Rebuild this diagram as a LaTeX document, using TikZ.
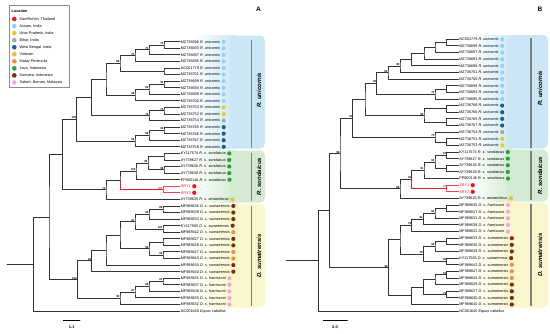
\documentclass[tikz,border=0pt]{standalone}
\usepackage{fontspec}
\setmainfont{Liberation Sans}
\usetikzlibrary{calc}
\definecolor{thai}{HTML}{E8191F}
\definecolor{assam}{HTML}{8FD4F2}
\definecolor{uttar}{HTML}{D8D42C}
\definecolor{bihar}{HTML}{A9A9A9}
\definecolor{bengal}{HTML}{16618F}
\definecolor{vietnam}{HTML}{F6B82C}
\definecolor{malay}{HTML}{F28A48}
\definecolor{java}{HTML}{25A33A}
\definecolor{sumatra}{HTML}{7B2D12}
\definecolor{sabah}{HTML}{F3A6DC}
\definecolor{boxU}{HTML}{CBE7F6}
\definecolor{boxS}{HTML}{D3EBD2}
\definecolor{boxD}{HTML}{FBF7CC}
\begin{document}
\begin{tikzpicture}[x=1pt,y=-1pt,line join=round,line cap=round,
  branch/.style={line width=0.9pt,draw=black!80},
  leaf/.style={anchor=west,inner sep=0.6pt,font=\fontsize{3.8}{4}\selectfont},
  bs/.style={anchor=south east,inner sep=0.3pt,font=\fontsize{2.8}{3}\selectfont\bfseries},
  clade/.style={rotate=90,font=\fontsize{6}{6}\selectfont\bfseries\itshape},
  bar/.style={line width=1.4pt,draw=black!50,line cap=butt},
  legtext/.style={anchor=west,inner sep=0pt,font=\fontsize{3.8}{4}\selectfont}]
\useasboundingbox (0,0) rectangle (550,333);
% legend
\draw[black!45,line width=0.5pt] (9,5) rectangle (69.5,87.5);
\node[legtext,font=\fontsize{3.8}{4}\selectfont\bfseries] (legtitle) at (11.5,11.5) {Location};
\foreach \k/\cl/\place in {1/thai/{SamRoiYot, Thailand},2/assam/{Assam, India},
  3/uttar/{Uttar Pradesh, India},4/bihar/{Bihar, India},5/bengal/{West Bengal, India},
  6/vietnam/Vietnam,7/malay/Malay Peninsula,8/java/{Java, Indonesia},
  9/sumatra/{Sumatra, Indonesia},10/sabah/{Sabah, Borneo, Malaysia}}{
  \fill[\cl] (14.3,{19+7.05*(\k-1)}) circle (2.3);
  \node[legtext] (leg\k) at (19.5,{19+7.05*(\k-1)}) {\place};
}
% clade boxes
\shade[left color=white,right color=boxU] (192,35.5) rectangle (235,148.5);
\fill[boxU,rounded corners=5pt] (230,35.5) rectangle (265,148.5);
\shade[left color=white,right color=boxS] (192,150.5) rectangle (235,202.5);
\fill[boxS,rounded corners=5pt] (230,150.5) rectangle (265,202.5);
\shade[left color=white,right color=boxD] (192,204) rectangle (235,307.5);
\fill[boxD,rounded corners=5pt] (230,204) rectangle (265,307.5);
\shade[left color=white,right color=boxU] (472,35) rectangle (512,148.5);
\fill[boxU,rounded corners=5pt] (507,35) rectangle (548,148.5);
\shade[left color=white,right color=boxS] (472,149.5) rectangle (512,201.5);
\fill[boxS,rounded corners=5pt] (507,149.5) rectangle (548,201.5);
\shade[left color=white,right color=boxD] (472,202.5) rectangle (512,307.5);
\fill[boxD,rounded corners=5pt] (507,202.5) rectangle (548,307.5);
\draw[bar] (251.7,40) -- (251.7,147.5);
\draw[bar] (251.7,152.5) -- (251.7,200.5);
\draw[bar] (251.7,205.5) -- (251.7,306);
\draw[bar] (531,38) -- (531,147.5);
\draw[bar] (531,151) -- (531,200);
\draw[bar] (531,204) -- (531,306);
\node[clade] (Acu) at (259,90) {R. unicornis};
\node[clade] (Acs) at (259,176.5) {R. sondaicus};
\node[clade] (Acd) at (259,256) {D. sumatrensis};
\node[clade] (Bcu) at (540,88) {R. unicornis};
\node[clade] (Bcs) at (540,175.5) {R. sondaicus};
\node[clade] (Bcd) at (540,255) {D. sumatrensis};
\node[font=\fontsize{6.5}{7}\selectfont\bfseries] (Apanel) at (258.5,9.5) {A};
\node[font=\fontsize{6.5}{7}\selectfont\bfseries] (Bpanel) at (540,9.5) {B};
% panel A leaves
\foreach \i/\acc/\spec/\cl in {1/MZ736696/R. unicornis/assam,2/MZ736693/R. unicornis/assam,
  3/MZ736697/R. unicornis/assam,4/MZ736695/R. unicornis/assam,5/NC001779/R. unicornis/assam,
  6/MZ736701/R. unicornis/assam,7/MZ736699/R. unicornis/assam,8/MZ736694/R. unicornis/assam,
  9/MZ736698/R. unicornis/assam,10/MZ736700/R. unicornis/assam,11/MZ736753/R. unicornis/uttar,
  12/MZ736752/R. unicornis/uttar,13/MZ736754/R. unicornis/bihar,14/MZ736765/R. unicornis/bengal,
  15/MZ736766/R. unicornis/bengal,16/MZ736767/R. unicornis/bengal,17/MZ736768/R. unicornis/bengal,
  18/KY117574/R. s. sondaicus/java,19/AY739627/R. s. sondaicus/java,20/AY739626/R. s. sondaicus/java,
  21/AY739628/R. s. sondaicus/java,22/PP800146/R. s. sondaicus/java,
  23/{\textcolor{thai}{SRY1}}/{}/thai,24/{\textcolor{thai}{SRY2}}/{}/thai,
  25/AY739625/R. s. annamiticus/vietnam,26/MF988636/D. s. sumatrensis/sumatra,
  27/MF988639/D. s. sumatrensis/sumatra,28/MF988633/D. s. sumatrensis/sumatra,
  29/KY117565/D. s. sumatrensis/sumatra,30/MF988642/D. s. sumatrensis/malay,
  31/MF988627/D. s. sumatrensis/sumatra,32/MF988628/D. s. sumatrensis/sumatra,
  33/MF988647/D. s. sumatrensis/malay,34/MF988643/D. s. sumatrensis/malay,
  35/MF988630/D. s. sumatrensis/sumatra,36/MF988640/D. s. sumatrensis/sumatra,
  37/MF988631/D. s. harrissoni/sabah,38/MF988637/D. s. harrissoni/sabah,
  39/MF988638/D. s. harrissoni/sabah,40/MF988635/D. s. harrissoni/sabah,
  41/MF988632/D. s. harrissoni/sabah}{
  \node[leaf] (A\i) at (180,{41.7+6.57*(\i-1)}) {\acc\ \textit{\spec}};
  \fill[\cl] ([xshift=2.8pt]A\i.east) circle (2.1);
}
\node[leaf] (A42) at (180,{41.7+6.57*41}) {NC001640 \textit{Equus caballus}};
% panel B leaves
\foreach \i/\acc/\spec/\cl in {1/NC001779/R. unicornis/assam,2/MZ736699/R. unicornis/assam,
  3/MZ736697/R. unicornis/assam,4/MZ736693/R. unicornis/assam,5/MZ736696/R. unicornis/assam,
  6/MZ736701/R. unicornis/assam,7/MZ736700/R. unicornis/assam,8/MZ736698/R. unicornis/assam,
  9/MZ736694/R. unicornis/assam,10/MZ736695/R. unicornis/assam,11/MZ736768/R. unicornis/bengal,
  12/MZ736766/R. unicornis/bengal,13/MZ736765/R. unicornis/bengal,14/MZ736767/R. unicornis/bengal,
  15/MZ736754/R. unicornis/bihar,16/MZ736752/R. unicornis/uttar,17/MZ736753/R. unicornis/uttar,
  18/KY117574/R. s. sondaicus/java,19/AY739627/R. s. sondaicus/java,20/AY739626/R. s. sondaicus/java,
  21/AY739628/R. s. sondaicus/java,22/PP800146/R. s. sondaicus/java,
  23/{\textcolor{thai}{SRY1}}/{}/thai,24/{\textcolor{thai}{SRY2}}/{}/thai,
  25/AY739625/R. s. annamiticus/vietnam,26/MF988635/D. s. harrissoni/sabah,
  27/MF988637/D. s. harrissoni/sabah,28/MF988631/D. s. harrissoni/sabah,
  29/MF988638/D. s. harrissoni/sabah,30/MF988632/D. s. harrissoni/sabah,
  31/MF988633/D. s. sumatrensis/sumatra,32/MF988636/D. s. sumatrensis/sumatra,
  33/MF988639/D. s. sumatrensis/sumatra,34/KY117565/D. s. sumatrensis/sumatra,
  35/MF988642/D. s. sumatrensis/malay,36/MF988647/D. s. sumatrensis/malay,
  37/MF988643/D. s. sumatrensis/malay,38/MF988628/D. s. sumatrensis/sumatra,
  39/MF988627/D. s. sumatrensis/sumatra,40/MF988630/D. s. sumatrensis/sumatra,
  41/MF988640/D. s. sumatrensis/sumatra}{
  \node[leaf] (B\i) at (458.5,{39.3+6.63*(\i-1)}) {\acc\ \textit{\spec}};
  \fill[\cl] ([xshift=2.8pt]B\i.east) circle (2.1);
}
\node[leaf] (B42) at (458.5,{39.3+6.63*41}) {NC001640 \textit{Equus caballus}};
% internal nodes: name/x/child/child/support/colour
\foreach \nd/\xx/\ca/\cb/\bv/\cl in {
  Aa12/164/A1.west/A2.west/79/black,Aa123/149/Aa12/A3.west/73/black,
  Aa1234/135/Aa123/A4.west/75/black,Aa56/164/A5.west/A6.west//black,
  Aa16/120/Aa1234/Aa56/88/black,Aa78/164/A7.west/A8.west/93/black,
  Aa789/149/Aa78/A9.west/83/black,Aa710/135/Aa789/A10.west/98/black,
  Aas/106/Aa16/Aa710//black,Ay12/164/A11.west/A12.west/74/black,
  Ay123/149/Ay12/A13.west/76/black,Auu/91.7/Aas/Ay123//black,
  Ad12/164/A14.west/A15.west/93/black,Ad123/149/Ad12/A16.west/98/black,
  Ad1234/135/Ad123/A17.west/86/black,Au/76.7/Auu/Ad1234/100/black,
  As12/164/A18.west/A19.west//black,As34/164/A20.west/A21.west/98/black,
  As1234/148/As12/As34/88/black,As5/136/As1234/A22.west/100/black,
  Asry/163/A23.west/A24.west/100/thai,Asond/120/As5/Asry//black,
  Asann/106/Asond/A25.west/73/black,Arh/62.7/Au/Asann//black,
  At12/163/A26.west/A27.west/88/black,At123/149/At12/A28.west/96/black,
  At45/163/A29.west/A30.west/100/black,At15/135/At123/At45/97/black,
  Am1/163/A31.west/A32.west//black,Am2/163/A33.west/A34.west/98/black,
  Am12/149/Am1/Am2/96/black,An120/120/At15/Am12//black,
  An106/106/An120/A35.west//black,Asum/91.7/An106/A36.west/96/black,
  Ah12/163/A37.west/A38.west/97/black,Ah123/149/Ah12/A39.west/88/black,
  Ah1234/135/Ah123/A40.west/97/black,Ah/120/Ah1234/A41.west/96/black,
  Adi/77.3/Asum/Ah/100/black,Ain/49/Arh/Adi//black,Aroot/33.3/Ain/A42.west//black,
  Bb12/446.7/B1.west/B2.west//black,Bb123/435/Bb12/B3.west//black,
  Bb1234/424/Bb123/B4.west//black,Bb15/411.7/Bb1234/B5.west//black,
  Bb16/400/Bb15/B6.west/88/black,Bb17/388/Bb16/B7.west/83/black,
  Bb89/446.7/B8.west/B9.west//black,Bb810/435/Bb89/B10.west/73/black,
  Bb110/376.7/Bb17/Bb810/96/black,Bd12/446.7/B11.west/B12.west//black,
  Bd34/446.7/B13.west/B14.west//black,Bd/424/Bd12/Bd34/99/black,
  Bb114/365/Bb110/Bd//black,Bg23/446.7/B16.west/B17.west//black,
  Bg/435/B15.west/Bg23/73/black,Bu/352.7/Bb114/Bg/78/black,
  Bs12/446.7/B18.west/B19.west/97/black,Bs34/446.7/B20.west/B21.west//black,
  Bs1234/435/Bs12/Bs34/93/black,Bs15/424/Bs1234/B22.west/91/black,
  Bsry/446.7/B23.west/B24.west/97/thai,Bsond/411.7/Bs15/Bsry/91/black,
  Bsann/400/Bsond/B25.west/88/black,Brh/340/Bu/Bsann/98/black,
  Bh12/446.7/B26.west/B27.west//black,Bh123/435/Bh12/B28.west/84/black,
  Bh1234/423.3/Bh123/B29.west/91/black,Bh/411.7/Bh1234/B30.west/78/black,
  Bm12/446.7/B31.west/B32.west//black,Bm123/435/Bm12/B33.west/96/black,
  Bm45/446.7/B34.west/B35.west/84/black,Bma/423.3/Bm123/Bm45/78/black,
  Bp/400/Bh/Bma//black,Bm67/446.7/B36.west/B37.west/91/black,
  Bm68/435/Bm67/B38.west//black,Bm910/446.7/B39.west/B40.west/71/black,
  Bmb1/423.3/Bm68/Bm910//black,Bmb/411.7/Bmb1/B41.west//black,
  Bdi/388.3/Bp/Bmb/96/black,Bin/329.3/Brh/Bdi//black,Broot/318.3/Bin/B42.west//black}{
  \path let \p1=(\ca), \p2=(\cb) in (\xx pt,{0.5*(\y1+\y2)}) coordinate (\nd);
  \draw[branch,draw=\cl!80] (\ca) -| (\nd) |- (\cb);
  \node[bs,text=\cl] at (\nd) {\bv};
}
\draw[branch,draw=thai] (Asond) |- (Asry);
\draw[branch,draw=thai] (Bsond) |- (Bsry);
% roots and scale bars
\coordinate (Astem) at (7,0);
\coordinate (Bstem) at (286,0);
\draw[branch] (Aroot) -- (Aroot -| Astem);
\draw[branch] (Broot) -- (Broot -| Bstem);
\draw[line width=0.9pt] (63.3,320) -- (80,320);
\node[font=\fontsize{4}{4}\selectfont\bfseries] (Ascale) at (71.7,327.5) {1.1};
\draw[line width=0.9pt] (323.3,320) -- (347.3,320);
\node[font=\fontsize{4}{4}\selectfont\bfseries] (Bscale) at (335,327.5) {2.0};
\end{tikzpicture}
\end{document}
